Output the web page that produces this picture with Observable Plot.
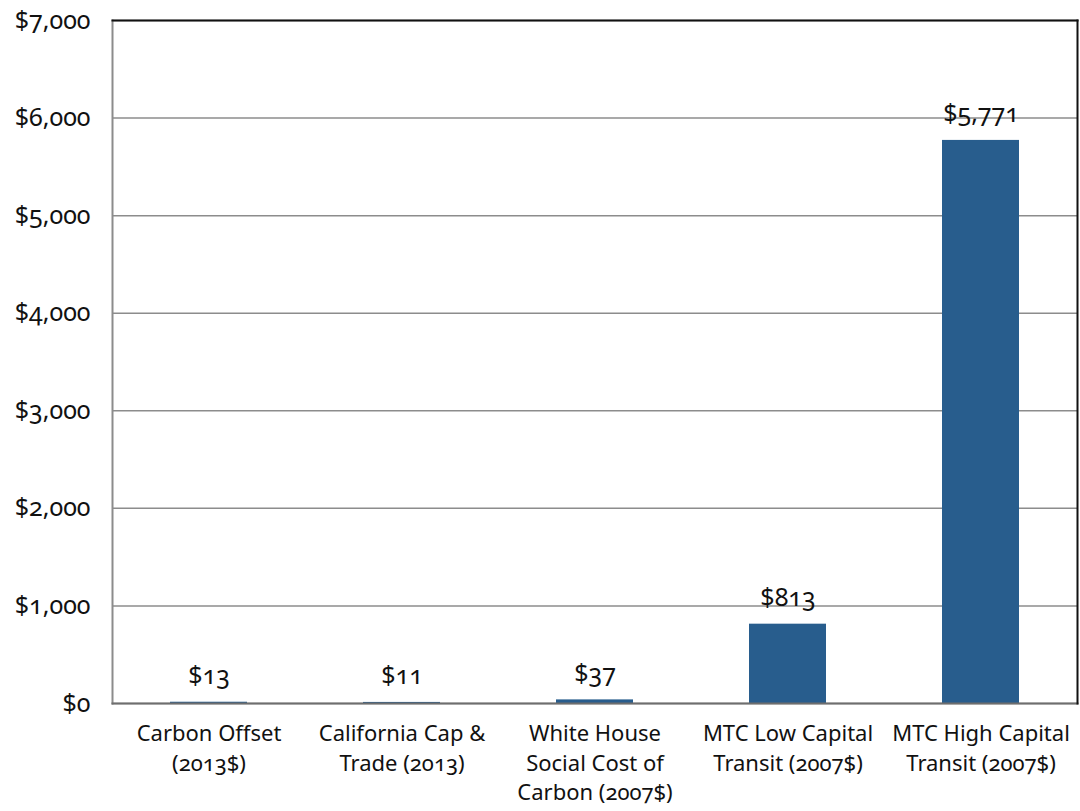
<!DOCTYPE html>
<html>
<head>
<meta charset="utf-8">
<script src="https://cdn.jsdelivr.net/npm/d3@7"></script>
<script src="https://cdn.jsdelivr.net/npm/@observablehq/plot@0.6"></script>
<style>
  html, body { margin: 0; padding: 0; background: #fff; }
  #chart svg { font-family: "Noto Sans", "Open Sans", sans-serif; font-variant-numeric: oldstyle-nums; font-feature-settings: "onum" 1; }
</style>
</head>
<body>
<div id="chart"></div>
<script>
const categories = [
  "Carbon Offset\n(2013$)",
  "California Cap &\nTrade (2013)",
  "White House\nSocial Cost of\nCarbon (2007$)",
  "MTC Low Capital\nTransit (2007$)",
  "MTC High Capital\nTransit (2007$)"
];
const values = [13, 11, 37, 813, 5771];
const valueLabels = ["$13", "$11", "$37", "$813", "$5,771"];
const yTicks = [0, 1000, 2000, 3000, 4000, 5000, 6000, 7000];

const data = categories.map((c, i) => ({category: c, value: values[i], label: valueLabels[i]}));
const fmt = d3.format(",");

const chart = Plot.plot({
  width: 1080,
  height: 811,
  marginLeft: 112,
  marginRight: 3,
  marginTop: 20,
  marginBottom: 108,
  style: {fontSize: "20px", color: "#111", background: "#fff"},
  x: {domain: categories, paddingInner: 0.6, paddingOuter: 0.3, label: null},
  y: {domain: [0, 7000], label: null},
  marks: [
    Plot.gridY(yTicks, {stroke: "#8c8c8c", strokeOpacity: 1, strokeWidth: 1.5}),
    Plot.barY(data, {x: "category", y: "value", fill: "#285d8d"}),
    Plot.frame({anchor: "left", stroke: "#8c8c8c", strokeWidth: 2}),
    Plot.frame({anchor: "bottom", stroke: "#6e6e6e", strokeWidth: 2}),
    Plot.frame({anchor: "top", stroke: "#111", strokeWidth: 2}),
    Plot.frame({anchor: "right", stroke: "#111", strokeWidth: 2}),
    Plot.axisY(yTicks, {tickSize: 0, tickPadding: 22, fontSize: 25, tickFormat: d => "$" + fmt(d), label: null}),
    Plot.axisX({tickSize: 0, tickPadding: 17, fontSize: 22, lineHeight: 1.33, label: null}),
    Plot.text(data, {x: "category", y: "value", text: "label", dy: -26, fontSize: 25, fill: "#111"})
  ]
});
document.getElementById("chart").appendChild(chart);
</script>
</body>
</html>
